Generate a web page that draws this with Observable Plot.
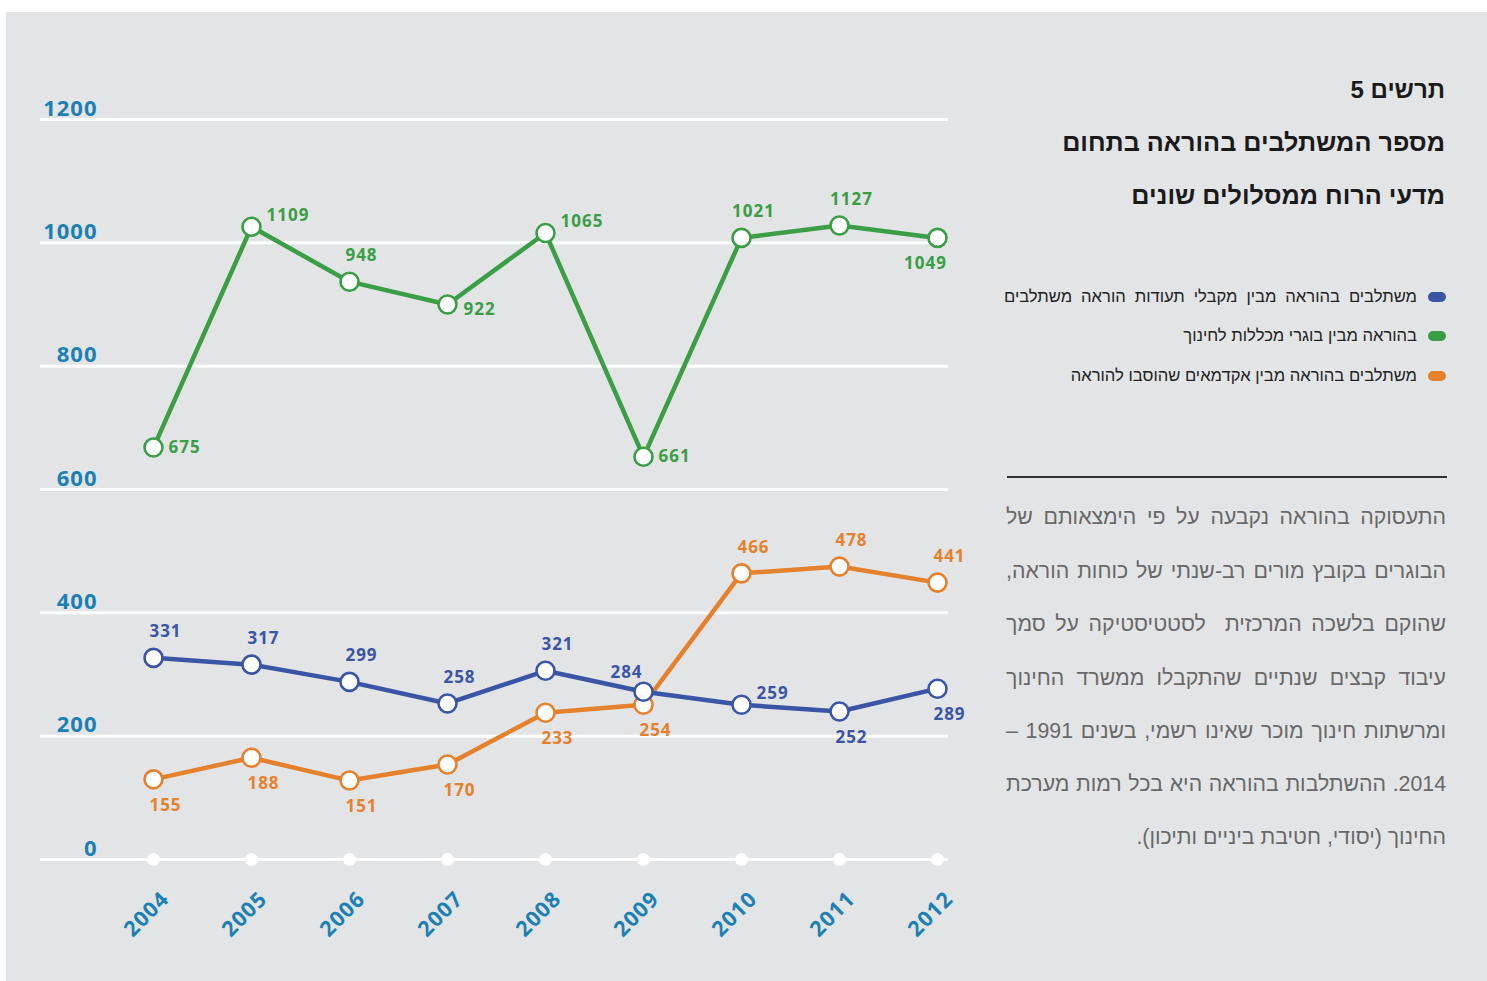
<!DOCTYPE html>
<html lang="he">
<head>
<meta charset="utf-8">
<script src="https://cdn.jsdelivr.net/npm/d3@7"></script>
<script src="https://cdn.jsdelivr.net/npm/@observablehq/plot@0.6"></script>
<style>
  html, body { margin: 0; padding: 0; background: #ffffff; width: 1487px; height: 981px; overflow: hidden; }
  #panel { position: absolute; left: 6px; top: 12px; width: 1481px; height: 969px; background: #e3e4e6; }
  #chart { position: absolute; left: 0; top: 0; }
  #chart svg { background: transparent; overflow: visible; }
  #chart svg text { letter-spacing: 1px; }
  .rtl { position: absolute; direction: rtl; text-align: right; font-family: "Liberation Sans", "DejaVu Sans", sans-serif; white-space: nowrap; }
  .title { left: 900px; width: 545px; font-weight: 700; color: #1a1a1a; }
  .legend { left: 900px; width: 517px; font-size: 16.6px; color: #222; height: 24px; line-height: 24px; }
  .pill { position: absolute; left: 1428px; width: 18px; height: 10px; border-radius: 5px; }
  .para { left: 1006px; width: 440px; font-size: 21.3px; color: #686868; height: 30px; line-height: 30px; text-align: justify; text-align-last: justify; }
</style>
</head>
<body>
<div id="panel"></div>
<div id="chart"></div>

<div class="rtl title" style="top:76px;font-size:24px;line-height:28px;">תרשים 5</div>
<div class="rtl title" style="top:126px;font-size:25.2px;line-height:32px;">מספר המשתלבים בהוראה בתחום</div>
<div class="rtl title" style="top:179px;font-size:25.2px;line-height:32px;">מדעי הרוח ממסלולים שונים</div>

<div class="pill" style="top:292px;background:#3a55a5;"></div>
<div class="rtl legend" style="top:285px;left:1004px;width:413px;text-align:justify;text-align-last:justify;">משתלבים בהוראה מבין מקבלי תעודות הוראה משתלבים</div>
<div class="pill" style="top:331px;background:#3a9e45;"></div>
<div class="rtl legend" style="top:324px;">בהוראה מבין בוגרי מכללות לחינוך</div>
<div class="pill" style="top:371px;background:#e5812c;"></div>
<div class="rtl legend" style="top:364px;">משתלבים בהוראה מבין אקדמאים שהוסבו להוראה</div>

<div style="position:absolute;left:1007px;top:476px;width:440px;height:1.5px;background:#333;"></div>

<div class="rtl para" style="top:502px;">התעסוקה בהוראה נקבעה על פי הימצאותם של</div>
<div class="rtl para" style="top:556px;">הבוגרים בקובץ מורים רב-שנתי של כוחות הוראה,</div>
<div class="rtl para" style="top:609px;">שהוקם בלשכה המרכזית&nbsp; לסטטיסטיקה על סמך</div>
<div class="rtl para" style="top:663px;">עיבוד קבצים שנתיים שהתקבלו ממשרד החינוך</div>
<div class="rtl para" style="top:716px;">ומרשתות חינוך מוכר שאינו רשמי, בשנים 1991 –</div>
<div class="rtl para" style="top:769px;">2014. ההשתלבות בהוראה היא בכל רמות מערכת</div>
<div class="rtl para" style="top:822px;text-align:right;text-align-last:right;">החינוך (יסודי, חטיבת ביניים ותיכון).</div>

<script>
// ---- data ----
const years = [2004, 2005, 2006, 2007, 2008, 2009, 2010, 2011, 2012];
const yTicks = [0, 200, 400, 600, 800, 1000, 1200];

// plotted values (as drawn in the picture)
const greenValues  = [668, 1026, 937, 900, 1016, 653, 1008, 1028, 1008];
const blueValues   = [327, 316, 288, 253, 306, 272, 251, 240, 277];
const orangeValues = [130, 165, 128, 154, 238, 251, 464, 475, 449];

// printed data labels
const greenLabels  = ["675", "1109", "948", "922", "1065", "661", "1021", "1127", "1049"];
const blueLabels   = ["331", "317", "299", "258", "321", "284", "259", "252", "289"];
const orangeLabels = ["155", "188", "151", "170", "233", "254", "466", "478", "441"];

// label placement codes
const greenPlace  = ["right", "upright", "above", "downright", "upright", "right", "above", "above", "belowleft"];
const bluePlace   = ["above", "above", "above", "above", "above", "upleft", "upright", "below", "below"];
const orangePlace = ["below", "below", "below", "below", "below", "below", "above", "above", "above"];

const colors = { green: "#3a9e45", blue: "#3a55a5", orange: "#e5812c" };
const axisColor = "#1b80b3";

function rows(values, labels, place) {
  return years.map((year, i) => ({ year, value: values[i], label: labels[i], place: place[i] }));
}
const series = [
  { name: "green", data: rows(greenValues, greenLabels, greenPlace) },
  { name: "orange", data: rows(orangeValues, orangeLabels, orangePlace) },
  { name: "blue", data: rows(blueValues, blueLabels, bluePlace) }
];

const placements = {
  above:     { dx: 12,  dy: -26, textAnchor: "middle" },
  below:     { dx: 12,  dy: 26,  textAnchor: "middle" },
  belowleft: { dx: -12, dy: 26,  textAnchor: "middle" },
  right:     { dx: 15,  dy: 0,   textAnchor: "start" },
  upright:   { dx: 15,  dy: -11, textAnchor: "start" },
  downright: { dx: 16,  dy: 5,   textAnchor: "start" },
  upleft:    { dx: -17, dy: -19, textAnchor: "middle" }
};

const marks = [
  Plot.ruleY(yTicks, { stroke: "#ffffff", strokeWidth: 3 }),
  Plot.text(yTicks, {
    y: d => d, text: d => String(d), frameAnchor: "left", dx: 57, dy: -4,
    textAnchor: "end", lineAnchor: "bottom", fill: axisColor, fontWeight: 700, fontSize: 22,
    fontFamily: "'Open Sans', sans-serif"
  }),
  Plot.dot(years, { x: d => d, frameAnchor: "bottom", r: 6.5, fill: "#ffffff" }),
  Plot.text(years, {
    x: d => d, text: d => String(d), frameAnchor: "bottom", dx: 12, dy: 36, rotate: -45,
    textAnchor: "end", lineAnchor: "middle", fill: axisColor, fontWeight: 700, fontSize: 21.5,
    fontFamily: "'Open Sans', sans-serif"
  })
];

for (const s of series) {
  const c = colors[s.name];
  marks.push(Plot.line(s.data, { x: "year", y: "value", stroke: c, strokeWidth: 4.5, strokeLinejoin: "round" }));
}
for (const s of series) {
  const c = colors[s.name];
  marks.push(Plot.dot(s.data, { x: "year", y: "value", r: 9, fill: "#ffffff", stroke: c, strokeWidth: 2.6 }));
  for (const [code, p] of Object.entries(placements)) {
    const subset = s.data.filter(d => d.place === code);
    if (!subset.length) continue;
    marks.push(Plot.text(subset, {
      x: "year", y: "value", text: "label", dx: p.dx, dy: p.dy, textAnchor: p.textAnchor,
      lineAnchor: "middle", fill: c, fontWeight: 700, fontSize: 17, fontFamily: "'Open Sans', sans-serif"
    }));
  }
}

const chart = Plot.plot({
  width: 1000,
  height: 981,
  marginLeft: 40,
  marginRight: 52,
  marginTop: 119,
  marginBottom: 122,
  x: { domain: [2004, 2012], range: [153, 937], axis: null },
  y: { domain: [0, 1200], axis: null },
  style: { background: "transparent", overflow: "visible" },
  marks
});
document.getElementById("chart").appendChild(chart);
</script>
</body>
</html>
